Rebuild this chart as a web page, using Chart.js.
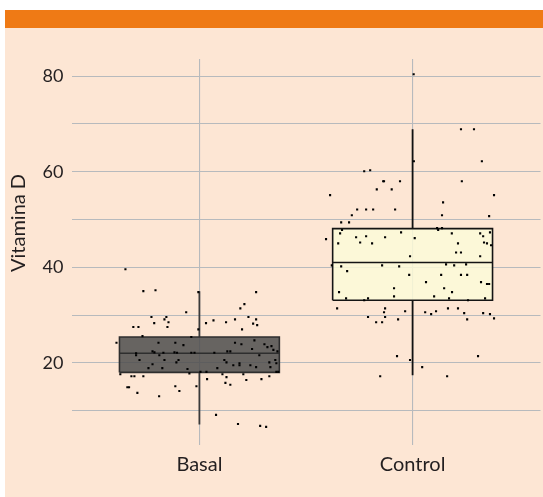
<!DOCTYPE html>
<html>
<head>
<meta charset="utf-8">
<script src="https://cdn.jsdelivr.net/npm/chart.js@4/dist/chart.umd.min.js"></script>
<style>
  html, body { margin: 0; padding: 0; background: #ffffff; }
  #wrap { position: relative; width: 543px; height: 497px; overflow: hidden; }
  #band { position: absolute; left: 5px; top: 10px; width: 538px; height: 18px; background: #ef7a15; }
  #panel { position: absolute; left: 5px; top: 28px; width: 538px; height: 469px; background: #fde6d4; }
  #c { position: absolute; left: 0; top: 0; }
</style>
</head>
<body>
<div id="wrap">
  <div id="band"></div>
  <div id="panel"></div>
  <canvas id="c" width="543" height="497"></canvas>
</div>
<script>
// ---- data ----
const categories = ['Basal', 'Control'];
const yTitle = 'Vitamina D';
const yGridValues = [10, 20, 30, 40, 50, 60, 70, 80];
const yLabelValues = [20, 40, 60, 80];

// box statistics per category
const q1 = [18.0, 33.1];
const median = [22.0, 41.0];
const q3 = [25.4, 48.1];
const whiskerLow = [7.1, 17.4];
const whiskerHigh = [35.0, 68.9];

// jittered raw points: x position (category index 1/2 + jitter) and value
const basalX = [0.737,0.794,0.995,1.266,1.211,1.192,0.938,0.775,0.845,0.836,1.230,1.266,1.167,1.066,0.855,0.788,1.031,1.125,1.252,1.271,0.690,0.714,0.850,1.200,0.995,0.733,0.962,0.611,0.808,0.887,0.925,1.167,1.197,1.258,1.305,1.319,1.338,1.347,1.366,1.247,0.780,0.789,0.831,0.883,0.895,0.962,0.977,1.070,1.131,1.145,0.703,0.703,0.812,1.281,0.719,0.836,0.902,0.892,1.117,1.127,1.188,1.188,1.159,1.239,1.328,1.356,1.361,0.780,0.761,0.826,0.944,1.084,1.266,1.333,0.953,1.005,1.033,0.629,1.108,1.206,1.361,1.370,0.681,0.695,0.737,1.127,1.328,1.036,1.220,1.291,1.122,1.145,0.662,0.670,0.887,0.986,0.906,0.709,0.811,1.078,1.181,1.285,1.313,0.653];
const basalY = [35.0,35.2,34.8,34.8,32.3,31.4,30.6,29.6,29.6,29.1,29.6,29.1,29.1,28.9,28.5,28.3,28.3,28.5,28.2,27.9,27.5,27.5,27.5,27.0,27.0,25.6,25.4,24.2,24.2,24.2,23.7,24.2,23.9,24.7,23.9,23.3,23.5,22.7,22.4,22.9,22.4,22.2,22.1,22.2,22.1,22.1,22.1,22.1,22.4,22.4,22.0,21.6,21.6,21.6,20.6,20.6,20.6,20.1,20.6,20.1,19.9,19.5,19.5,19.5,20.1,20.6,19.9,19.7,18.9,18.9,18.7,18.9,19.1,19.1,17.8,18.1,18.1,17.6,17.6,17.6,18.1,18.1,17.2,17.2,17.2,17.0,17.2,16.6,16.4,16.6,15.8,15.4,14.9,14.9,15.1,15.1,14.1,13.7,13.0,9.1,7.2,6.8,6.6,39.6];

const controlX = [2.227,2.288,2.006,2.325,1.773,1.801,1.862,1.866,1.941,2.231,1.832,1.902,1.613,2.382,2.143,1.740,1.782,1.815,1.918,1.715,2.138,2.359,1.665,1.702,2.115,2.138,2.120,1.669,1.660,1.946,2.184,2.317,2.363,1.594,1.735,1.782,1.871,2.010,2.331,1.651,1.754,1.810,2.213,2.335,2.349,2.368,2.204,2.227,1.988,2.317,1.621,1.665,1.857,1.937,2.157,2.195,2.251,1.693,1.984,2.134,2.227,2.256,2.063,2.321,2.349,2.359,1.913,2.148,1.655,2.185,1.913,2.101,1.688,1.791,2.171,2.340,1.773,2.260,1.646,1.871,2.166,2.213,1.866,1.965,2.059,2.110,2.087,2.242,2.331,2.363,1.791,1.871,2.382,1.932,2.256,1.829,1.857,1.927,2.307,1.988,2.045,1.848,2.162,2.005];
const controlY = [68.9,68.9,62.2,62.2,60.1,60.3,58.0,58.0,58.0,58.0,56.3,56.3,55.1,55.1,53.6,52.1,52.1,52.1,52.1,50.9,50.9,50.7,49.4,49.4,48.2,48.2,47.8,47.8,47.1,47.3,47.1,47.1,47.3,45.9,46.3,46.5,46.3,46.1,46.5,45.0,45.2,45.0,45.0,45.2,45.0,44.6,43.1,43.1,42.3,42.3,40.4,40.2,40.4,40.2,40.6,40.4,40.6,39.2,38.4,38.4,38.4,38.4,36.9,36.9,36.5,36.5,35.6,35.6,34.8,34.8,33.9,33.9,33.5,33.5,33.5,33.5,33.1,33.1,31.4,31.4,31.4,31.4,30.6,30.8,30.6,30.8,30.2,30.4,30.4,30.2,29.6,29.6,29.3,29.1,29.1,28.5,28.5,21.4,21.4,20.6,19.1,17.2,17.2,80.4];

// ---- styles ----
const boxHalfWidth = 0.375;
const boxFill = ['rgba(78,78,78,0.86)', 'rgba(251,250,216,0.85)'];
const boxBorder = ['#2e2e2e', '#141414'];
const whiskerColor = ['#3a3a3a', '#111111'];
const gridColor = '#b7babd';
const textColor = '#231f20';

function pts(xs, ys) { return xs.map((x, i) => ({ x: x, y: ys[i] })); }

const pointSets = [
  { label: categories[0] + ' points', data: pts(basalX, basalY) },
  { label: categories[1] + ' points', data: pts(controlX, controlY) }
].map(d => Object.assign(d, {
  type: 'scatter', pointStyle: 'rect', pointRadius: 1.5, pointHoverRadius: 1.5,
  backgroundColor: '#000', borderWidth: 0, showLine: false
}));

const medianSets = categories.map((c, i) => ({
  type: 'line', label: c + ' median',
  data: [{ x: i + 1 - boxHalfWidth, y: median[i] }, { x: i + 1 + boxHalfWidth, y: median[i] }],
  borderColor: boxBorder[i], borderWidth: 1.6, pointRadius: 0, fill: false, tension: 0
}));

const outlineSets = categories.map((c, i) => ({
  type: 'line', label: c + ' box',
  data: [
    { x: i + 1 - boxHalfWidth, y: q1[i] }, { x: i + 1 - boxHalfWidth, y: q3[i] },
    { x: i + 1 + boxHalfWidth, y: q3[i] }, { x: i + 1 + boxHalfWidth, y: q1[i] },
    { x: i + 1 - boxHalfWidth, y: q1[i] }
  ],
  borderColor: boxBorder[i], borderWidth: 1.6, pointRadius: 0, fill: false, tension: 0
}));

const whiskerSets = [];
categories.forEach((c, i) => {
  whiskerSets.push({
    type: 'line', label: c + ' upper whisker',
    data: [{ x: i + 1, y: q3[i] }, { x: i + 1, y: whiskerHigh[i] }],
    borderColor: whiskerColor[i], borderWidth: 1.8, pointRadius: 0, fill: false
  });
  whiskerSets.push({
    type: 'line', label: c + ' lower whisker',
    data: [{ x: i + 1, y: whiskerLow[i] }, { x: i + 1, y: q1[i] }],
    borderColor: whiskerColor[i], borderWidth: 1.8, pointRadius: 0, fill: false
  });
});

const fillSets = categories.map((c, i) => ({
  type: 'line', label: c + ' box fill',
  data: [{ x: i + 1 - boxHalfWidth, y: q3[i] }, { x: i + 1 + boxHalfWidth, y: q3[i] }],
  borderWidth: 0, borderColor: 'rgba(0,0,0,0)', pointRadius: 0,
  backgroundColor: boxFill[i], fill: { value: q1[i] }, tension: 0
}));

const yTitlePlugin = {
  id: 'yTitle',
  afterDraw(chart) {
    const ctx = chart.ctx;
    ctx.save();
    ctx.translate(19, 223);
    ctx.rotate(-Math.PI / 2);
    ctx.font = '20px Lato';
    ctx.fillStyle = textColor;
    ctx.textAlign = 'center';
    ctx.textBaseline = 'middle';
    ctx.fillText(yTitle, 0, 0);
    ctx.restore();
  }
};

new Chart(document.getElementById('c'), {
  type: 'scatter',
  data: { datasets: [...pointSets, ...medianSets, ...outlineSets, ...whiskerSets, ...fillSets] },
  options: {
    responsive: false,
    animation: false,
    layout: { padding: { top: 59, right: 2.5, left: 0, bottom: 0 } },
    plugins: { legend: { display: false }, tooltip: { enabled: false } },
    scales: {
      x: {
        type: 'linear', min: 0.4, max: 2.6,
        afterBuildTicks: s => { s.ticks = categories.map((c, i) => ({ value: i + 1 })); },
        afterFit: s => { s.height = 52; },
        ticks: {
          callback: v => categories[Math.round(v) - 1],
          color: textColor, font: { family: 'Lato', size: 20 }, padding: 8, maxRotation: 0
        },
        grid: { color: gridColor, lineWidth: 1.1, drawTicks: false },
        border: { display: false }
      },
      y: {
        type: 'linear', min: 2.8, max: 83.6,
        afterBuildTicks: s => { s.ticks = yGridValues.map(v => ({ value: v })); },
        afterFit: s => { s.width = 71.5; },
        ticks: {
          callback: v => (yLabelValues.includes(v) ? String(v) : ''),
          color: textColor, font: { family: 'Lato', size: 18 }, padding: 8
        },
        grid: { color: gridColor, lineWidth: 1.1, drawTicks: false },
        border: { display: false }
      }
    }
  },
  plugins: [yTitlePlugin]
});
</script>
</body>
</html>
